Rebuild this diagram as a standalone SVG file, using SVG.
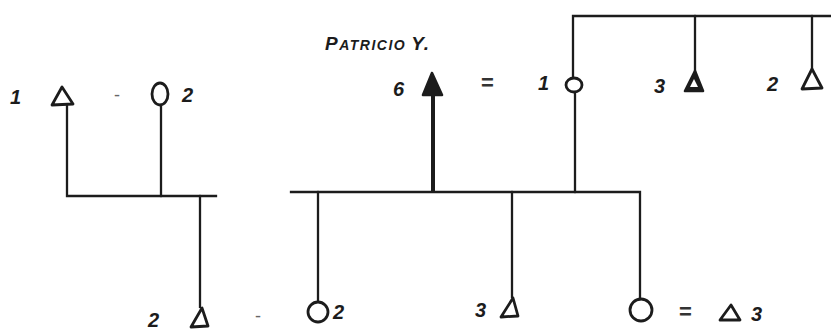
<svg xmlns="http://www.w3.org/2000/svg" width="831" height="332" viewBox="0 0 831 332">
<style>
.ln{fill:none;stroke:#1c1c1c;stroke-width:2.3;stroke-linecap:square}
.thk{fill:none;stroke:#1c1c1c;stroke-width:4}
.sym{fill:none;stroke:#1c1c1c;stroke-width:2.8;stroke-linejoin:round}
.fil{fill:#1c1c1c;stroke:#1c1c1c;stroke-width:2.6;stroke-linejoin:round}
.t{font-family:"Liberation Sans",Arial,sans-serif;font-weight:bold;font-style:italic;font-size:20px;fill:#1c1c1c}
.sep{font-family:"Liberation Sans",Arial,sans-serif;font-size:18px;fill:#666}
.eq{font-family:"Liberation Sans",Arial,sans-serif;font-size:22px;font-weight:bold;fill:#333}
.nm{font-family:"Liberation Sans",Arial,sans-serif;font-weight:bold;font-style:italic;fill:#1c1c1c;letter-spacing:1.5px}
</style>
<rect width="831" height="332" fill="#fff"/>
<g id="connectors">
  <path class="ln" d="M67,106 V196 H216"/>
  <path class="ln" d="M161,105 V196"/>
  <path class="ln" d="M200,196 V307"/>
  <path class="ln" d="M291,192 H640 V299"/>
  <path class="ln" d="M318,192 V301"/>
  <path class="ln" d="M512,192 V297"/>
  <path class="thk" d="M433,95 V192"/>
  <path class="ln" d="M575,93 V192"/>
  <path class="ln" d="M573,77 V16 H831"/>
  <path class="ln" d="M695,16 V72"/>
  <path class="ln" d="M812,16 V68"/>
</g>
<g id="n-left-father">
  <path class="sym" d="M62,87 L52,105 L73,104 Z"/>
  <text class="t" x="10" y="104">1</text>
</g>
<g id="n-left-sep"><text class="sep" x="114" y="101">-</text></g>
<g id="n-left-mother">
  <ellipse class="sym" cx="160" cy="94" rx="8" ry="11"/>
  <text class="t" x="182" y="102">2</text>
</g>
<g id="n-son-2">
  <path class="sym" d="M202,308 L191,327 L208,326 Z"/>
  <text class="t" x="148" y="327">2</text>
</g>
<g id="n-bottom-sep"><text class="sep" x="255" y="322">-</text></g>
<g id="n-daughter-2">
  <ellipse class="sym" cx="318" cy="312" rx="10" ry="10"/>
  <text class="t" x="333" y="319">2</text>
</g>
<g id="n-patricio">
  <text class="nm" x="325" y="50"><tspan font-size="19">P</tspan><tspan font-size="14">ATRICIO</tspan><tspan font-size="19" dx="5">Y.</tspan></text>
  <path class="fil" d="M432,73 L423,95 L442,95 Z"/>
  <text class="t" x="393" y="96">6</text>
</g>
<g id="n-eq-top"><text class="eq" x="481" y="90">=</text></g>
<g id="n-wife-1">
  <ellipse class="sym" cx="574" cy="85" rx="8" ry="7"/>
  <text class="t" x="538" y="90">1</text>
</g>
<g id="n-brother-3">
  <path class="fil" d="M695,71 L685,91 L703,91 Z"/>
  <path d="M694,79 L690,87 L698,87 Z" fill="#fff"/>
  <text class="t" x="654" y="93">3</text>
</g>
<g id="n-brother-2">
  <path class="sym" d="M812,69 L802,89 L822,88 Z"/>
  <text class="t" x="767" y="91">2</text>
</g>
<g id="n-son-3">
  <path class="sym" d="M513,298 L501,317 L518,316 Z"/>
  <text class="t" x="475" y="317">3</text>
</g>
<g id="n-daughter">
  <ellipse class="sym" cx="641" cy="310" rx="11" ry="11"/>
</g>
<g id="n-eq-bottom"><text class="eq" x="679" y="319">=</text></g>
<g id="n-husband-3">
  <path class="sym" d="M731,305 L720,320 L740,320 Z"/>
  <text class="t" x="751" y="321">3</text>
</g>
</svg>
